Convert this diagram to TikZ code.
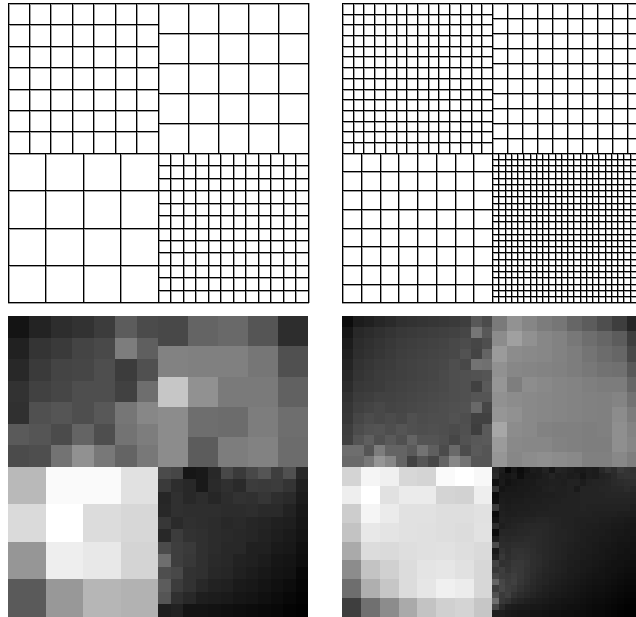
\documentclass[tikz,border=0pt]{standalone}
\definecolor{halo}{gray}{0.62}
\tikzset{
  gridline/.style={draw=black,line width=1pt,line cap=rect},
  gridhalo/.style={draw=halo,line width=1pt,line cap=rect},
  pixcell/.style={line width=0pt}
}
% x0 y0 x1 y1 nx ny  (a grey rule beside each black one stands for the reference's soft line edge)
\newcommand{\gridblock}[6]{%
  \pgfmathsetmacro{\gdx}{(#3-#1)/#5}%
  \pgfmathsetmacro{\gdy}{(#4-#2)/#6}%
  \foreach \k in {0,...,#5}{\draw[gridhalo] ({#1+\k*\gdx+1},#2) -- ({#1+\k*\gdx+1},#4);}%
  \foreach \k in {0,...,#6}{\draw[gridhalo] (#1,{#2+\k*\gdy+1}) -- (#3,{#2+\k*\gdy+1});}%
}
\newcommand{\gridtop}[6]{%
  \pgfmathsetmacro{\gdx}{(#3-#1)/#5}%
  \pgfmathsetmacro{\gdy}{(#4-#2)/#6}%
  \foreach \k in {0,...,#5}{\draw[gridline] ({#1+\k*\gdx},#2) -- ({#1+\k*\gdx},#4);}%
  \foreach \k in {0,...,#6}{\draw[gridline] (#1,{#2+\k*\gdy}) -- (#3,{#2+\k*\gdy});}%
}
% x0 y0 x1 y1 nx ny rows
\newcommand{\imgblock}[7]{%
  \pgfmathsetmacro{\gdx}{(#3-#1)/#5}%
  \pgfmathsetmacro{\gdy}{(#4-#2)/#6}%
  \foreach \rw [count=\j from 0] in {#7}{%
    \foreach \v [count=\i from 0] in \rw {%
      \definecolor{cellc}{RGB}{\v,\v,\v}%
      \fill[cellc,pixcell] ({#1+\i*\gdx},{#2+\j*\gdy}) rectangle ({#1+(\i+1)*\gdx+0.3},{#2+(\j+1)*\gdy+0.3});
    }%
  }%
}
\begin{document}
\begin{tikzpicture}[x=1pt,y=-1pt]
\useasboundingbox (0,0) rectangle (636,617);
\clip (0,0) rectangle (636,617);
\fill[white] (0,0) rectangle (636,617);
% --- top meshes
\gridblock{8}{3.5}{158}{153.2}{7}{7}
\gridblock{158}{3.5}{308}{153.2}{5}{5}
\gridblock{8}{153.2}{158}{302.9}{4}{4}
\gridblock{158}{153.2}{308}{302.9}{12}{12}
\gridblock{342.5}{3.5}{492.5}{153.2}{14}{14}
\gridblock{492.5}{3.5}{642.5}{153.2}{10}{10}
\gridblock{342.5}{153.2}{492.5}{302.9}{8}{8}
\gridblock{492.5}{153.2}{642.5}{302.9}{24}{24}
\gridtop{8}{3.5}{158}{153.2}{7}{7}
\gridtop{158}{3.5}{308}{153.2}{5}{5}
\gridtop{8}{153.2}{158}{302.9}{4}{4}
\gridtop{158}{153.2}{308}{302.9}{12}{12}
\gridtop{342.5}{3.5}{492.5}{153.2}{14}{14}
\gridtop{492.5}{3.5}{642.5}{153.2}{10}{10}
\gridtop{342.5}{153.2}{492.5}{302.9}{8}{8}
\gridtop{492.5}{153.2}{642.5}{302.9}{24}{24}
% --- left image
\imgblock{8}{316.3}{158}{467}{7}{7}{
{20,35,45,50,60,92,75},
{33,52,58,68,73,125,95},
{40,58,68,70,78,60,80},
{50,65,70,78,78,65,110},
{48,80,85,78,88,118,135},
{90,85,75,100,78,115,125},
{75,78,115,145,120,100,120}}
\imgblock{158}{316.3}{308}{467}{5}{5}{
{72,100,105,85,45},
{130,128,128,118,80},
{198,145,122,122,97},
{140,110,108,125,110},
{140,92,125,130,108}}
\imgblock{8}{467}{158}{616.5}{4}{4}{
{185,250,250,225},
{218,255,220,215},
{150,238,232,212},
{90,152,182,178}}
\imgblock{158}{467}{308}{616.5}{12}{12}{
{75,70,22,25,40,72,58,72,85,62,80,40},
{58,45,40,25,42,48,42,60,58,60,52,32},
{38,48,40,45,38,45,50,48,54,46,42,28},
{40,48,46,46,46,44,44,46,42,42,34,24},
{55,42,48,46,44,40,42,38,36,32,30,22},
{40,60,50,48,44,42,40,38,34,30,26,20},
{75,62,58,48,44,40,40,32,32,26,24,16},
{110,62,56,48,42,40,34,32,28,22,20,14},
{78,72,50,48,40,38,32,28,24,20,18,8},
{92,60,50,40,34,32,26,24,20,16,12,6},
{85,48,40,30,28,26,22,20,16,12,8,4},
{30,34,20,20,18,16,14,12,10,8,4,2}}
% --- right image
\imgblock{342.3}{316.3}{492.3}{467}{14}{14}{
{12,28,32,38,42,48,50,52,54,56,58,62,88,75},
{22,40,44,48,52,56,58,60,62,64,66,70,118,88},
{28,44,48,52,56,60,62,64,66,68,72,76,70,78},
{32,46,50,54,58,62,64,66,68,70,72,82,68,100},
{36,50,54,58,60,64,66,68,70,72,78,72,115,112},
{40,52,56,60,62,64,66,68,70,74,78,80,82,85},
{44,56,58,60,64,66,68,70,72,74,78,80,65,90},
{50,60,62,66,66,68,70,72,74,76,78,80,85,85},
{54,64,68,72,68,70,72,74,76,78,80,82,105,70},
{56,70,76,72,76,72,80,76,78,78,82,78,65,65},
{62,76,82,84,78,85,80,78,80,78,75,80,62,90},
{64,84,95,80,90,80,100,84,84,80,70,82,88,90},
{110,110,85,125,100,100,90,115,95,75,105,75,90,85},
{105,105,120,150,135,100,65,85,70,100,135,115,85,85}}
\imgblock{492.3}{316.3}{642.3}{467}{10}{10}{
{122,146,134,124,118,102,92,78,62,38},
{140,160,145,135,130,120,110,102,92,62},
{155,140,137,135,130,125,116,108,102,72},
{145,135,133,131,129,125,120,114,112,88},
{150,126,141,137,133,131,127,124,124,102},
{145,140,137,135,133,131,129,128,132,114},
{150,145,137,135,133,131,129,128,140,124},
{167,140,137,130,128,128,126,128,143,131},
{155,137,135,135,130,128,126,126,143,134},
{150,135,140,143,140,137,128,128,136,126}}
\imgblock{342.3}{467}{492.3}{616.5}{8}{8}{
{212,245,240,215,212,250,255,248},
{238,255,225,235,235,212,210,238},
{205,245,235,225,225,222,222,225},
{195,232,228,225,224,222,220,226},
{170,220,218,222,224,225,222,218},
{140,195,208,220,228,230,225,215},
{110,175,198,220,230,240,236,215},
{62,112,140,170,195,208,212,198}}
\imgblock{492.3}{467}{642.3}{616.5}{24}{24}{
{38,28,8,22,12,20,28,26,34,22,36,34,30,26,26,30,28,40,50,44,58,52,48,42},
{42,24,22,26,14,24,24,26,30,36,30,32,28,30,22,30,28,34,36,42,50,52,50,42},
{16,26,18,22,24,26,26,30,30,32,32,30,34,34,28,34,36,36,38,42,44,46,46,40},
{52,20,24,24,26,26,28,28,32,34,32,32,34,26,36,36,36,38,38,40,40,44,40,38},
{12,26,26,26,26,28,28,30,30,30,32,32,34,34,36,36,36,36,38,38,38,38,36,36},
{14,28,26,28,28,30,30,30,32,32,32,34,34,34,36,36,36,36,36,36,36,36,34,32},
{58,30,28,30,30,30,32,32,32,34,34,34,34,34,36,34,34,34,34,34,34,34,30,28},
{12,32,30,30,32,32,32,34,34,34,34,34,34,34,34,34,32,32,32,32,30,30,28,26},
{20,34,32,34,34,36,36,38,38,36,36,34,34,32,32,32,32,30,30,28,28,26,24,24},
{45,30,34,36,38,40,40,40,40,38,36,34,34,32,32,30,30,28,28,26,26,24,22,22},
{12,38,38,38,40,40,42,42,40,38,36,36,34,32,30,30,28,28,26,24,24,22,22,20},
{30,42,40,42,42,44,44,42,40,38,36,36,34,32,30,28,28,26,26,24,22,22,20,18},
{75,44,44,46,46,46,44,42,40,38,36,34,32,30,30,28,26,24,24,22,20,20,18,18},
{25,50,44,50,50,48,46,42,40,38,36,34,32,30,28,28,26,24,22,22,20,18,18,16},
{34,56,46,50,52,50,46,44,40,38,36,34,30,30,28,26,24,24,22,20,18,18,16,14},
{65,48,50,56,56,52,46,44,40,36,34,32,30,28,26,26,24,22,20,18,18,16,14,12},
{55,62,52,58,56,50,46,42,38,36,34,32,28,28,26,24,22,20,18,18,16,14,12,10},
{70,60,58,62,56,50,44,40,36,34,32,30,28,26,24,22,20,20,18,16,14,12,10,10},
{100,70,60,64,54,48,42,38,36,32,30,28,26,24,22,20,18,18,16,14,12,10,8,8},
{60,72,62,58,50,44,40,36,32,30,28,26,24,22,20,18,16,16,14,12,10,8,6,6},
{80,58,64,50,44,40,36,32,30,26,26,24,22,20,18,16,14,14,12,10,8,6,4,4},
{110,56,50,40,36,32,30,28,26,24,22,20,20,18,16,14,12,12,10,8,6,4,2,2},
{70,42,30,28,26,26,24,24,22,20,20,18,16,16,14,12,10,10,8,6,4,2,1,1},
{30,30,26,24,22,22,20,20,18,16,16,14,14,12,12,10,8,8,6,4,2,1,0,0}}
\end{tikzpicture}
\end{document}
